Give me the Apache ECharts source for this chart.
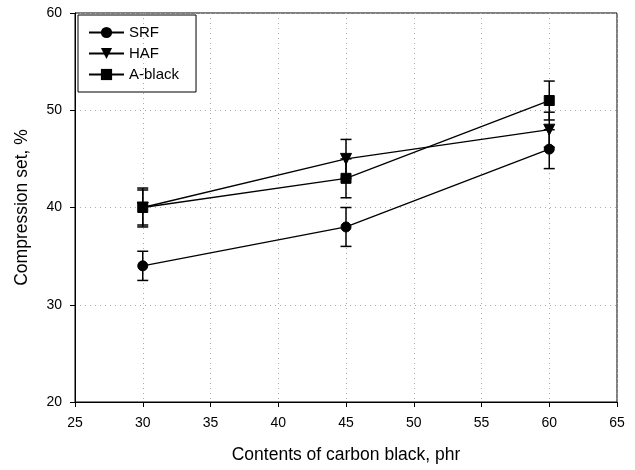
<!DOCTYPE html>
<html><head><meta charset="utf-8">
<script src="https://cdn.jsdelivr.net/npm/echarts@6/dist/echarts.min.js"></script>
<style>html,body{margin:0;padding:0;background:#fff}#c{width:635px;height:470px}</style>
</head><body><div id="c"></div>
<script>
const xValues = [30, 45, 60];
const seriesNames = ['SRF', 'HAF', 'A-black'];
const srfValues = [34, 38, 46];
const hafValues = [40, 45, 48];
const aBlackValues = [40, 43, 51];
const srfErr = [1.5, 2, 2];
const hafErr = [1.8, 2, 1.8];
const aBlackErr = [2, 2, 2];
const xTicks = [25, 30, 35, 40, 45, 50, 55, 60, 65];
const yTicks = [20, 30, 40, 50, 60];

const font = 'Liberation Sans, Arial, sans-serif';
function pairs(v){ return xValues.map((x,i)=>[x, v[i]]); }
function errData(v,e){ return xValues.map((x,i)=>[x, v[i]-e[i], v[i]+e[i]]); }
function errSeries(v,e){
  return {
    type:'custom', silent:true, z:1,
    data: errData(v,e),
    renderItem(params, api){
      const x = api.value(0);
      const lo = api.coord([x, api.value(1)]);
      const hi = api.coord([x, api.value(2)]);
      const w = 5.5;
      const st = {stroke:'#000', lineWidth:1.5};
      return {type:'group', children:[
        {type:'line', shape:{x1:lo[0],y1:lo[1],x2:hi[0],y2:hi[1]}, style:st},
        {type:'line', shape:{x1:lo[0]-w,y1:lo[1],x2:lo[0]+w,y2:lo[1]}, style:st},
        {type:'line', shape:{x1:hi[0]-w,y1:hi[1],x2:hi[0]+w,y2:hi[1]}, style:st}
      ]};
    }
  };
}
function lineSeries(name, v, symbol, size, rot){
  return {
    name, type:'line', data: pairs(v), z:2,
    symbol, symbolSize:size, symbolRotate: rot||0, showSymbol:true,
    lineStyle:{color:'#000', width:1.3},
    itemStyle:{color:'#000', borderColor:'#000'},
    emphasis:{disabled:true}
  };
}
const chart = echarts.init(document.getElementById('c'), null, {renderer:'canvas'});
chart.setOption({
  animation:false,
  backgroundColor:'#fff',
  grid:{left:75, right:18, top:13, bottom:68, show:true, borderColor:'#000', borderWidth:1},
  legend:{
    data: seriesNames, orient:'vertical', left:78, top:15,
    borderColor:'#000', borderWidth:1, padding:[10,17,10,10],
    itemWidth:35, itemHeight:14, itemGap:6,
    textStyle:{fontFamily:font, fontSize:15, color:'#000'}
  },
  xAxis:{
    type:'value', min:25, max:65, interval:5,
    name:'Contents of carbon black, phr', nameLocation:'middle', nameGap:44,
    nameTextStyle:{fontFamily:font, fontSize:17.5, color:'#000'},
    axisLine:{show:true, lineStyle:{color:'#000', width:1}},
    axisTick:{show:true, inside:false, length:5, lineStyle:{color:'#000'}},
    axisLabel:{fontFamily:font, fontSize:14, color:'#000', margin:14,
      formatter: v => xTicks.includes(v) ? String(v) : ''},
    splitLine:{show:true, lineStyle:{color:'#aaa', type:[1,4], width:1}}
  },
  yAxis:{
    type:'value', min:20, max:60, interval:10,
    name:'Compression set, %', nameLocation:'middle', nameGap:44,
    nameTextStyle:{fontFamily:font, fontSize:17.5, color:'#000'},
    axisLine:{show:true, lineStyle:{color:'#000', width:1}},
    axisTick:{show:true, inside:false, length:5, lineStyle:{color:'#000'}},
    axisLabel:{fontFamily:font, fontSize:14, color:'#000', margin:13,
      formatter: v => yTicks.includes(v) ? String(v) : ''},
    splitLine:{show:true, lineStyle:{color:'#aaa', type:[1,4], width:1}}
  },
  series:[
    errSeries(srfValues, srfErr),
    errSeries(hafValues, hafErr),
    errSeries(aBlackValues, aBlackErr),
    lineSeries('SRF', srfValues, 'circle', 10),
    lineSeries('HAF', hafValues, 'triangle', 11, 180),
    lineSeries('A-black', aBlackValues, 'rect', 10)
  ]
});
</script></body></html>
